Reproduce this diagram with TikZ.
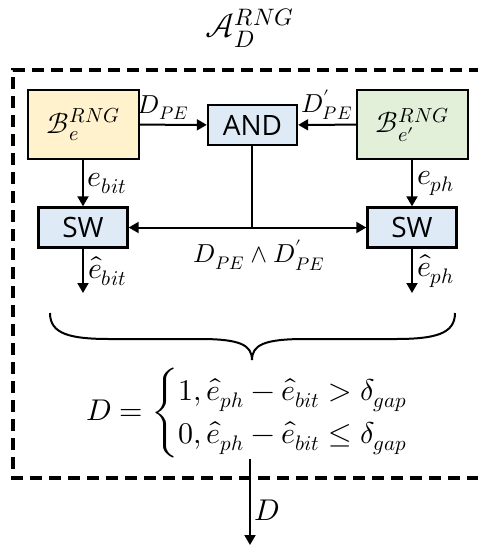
\documentclass[tikz,border=0pt]{standalone}
\usepackage{amsmath}
\usepackage{unicode-math}
\newfontfamily\boxfont{Open Sans}
\usetikzlibrary{arrows.meta}
\definecolor{yellowF}{HTML}{FFF2CC}
\definecolor{greenF}{HTML}{E2F0D9}
\definecolor{blueF}{HTML}{DEEBF7}

\begin{document}
\begin{tikzpicture}[x=0.5pt,y=-0.5pt,
block/.style={draw,line width=1.2pt,inner sep=0pt},
src/.style={block,minimum width=55.5pt,minimum height=34.5pt,font=\fontsize{14.5}{17}\selectfont},
gate/.style={block,fill=blueF,minimum width=44.5pt,minimum height=20pt,font=\boxfont\fontsize{14}{16}\selectfont},
flow/.style={-{Triangle[length=5pt,width=5.5pt]},line width=1pt},
lbl/.style={font=\fontsize{15}{17}\selectfont,inner sep=2pt},
slbl/.style={font=\fontsize{13}{15}\selectfont,inner sep=2pt}]
\useasboundingbox (0,0) rectangle (478,548);
\clip (0,0) rectangle (478,548);
% title and dashed frame
\node[font=\fontsize{17}{19}\selectfont] (title) at (250,28) {$\mathcal{A}_D^{RNG}$};
\draw[line width=1.8pt,dash pattern=on 6pt off 3.5pt] (500,70) -- (13,70) -- (13,478) -- (500,478);
% blocks
\node[src,fill=yellowF] (be) at (83.5,124.5) {$\mathcal{B}_e^{RNG}$};
\node[src,fill=greenF] (bep) at (412.5,124.5) {$\mathcal{B}_{e'}^{RNG}$};
\node[gate] (and) at (252.5,125) {AND};
\node[gate] (swl) at (83,227.5) {SW};
\node[gate] (swr) at (412,227.5) {SW};
\coordinate (join) at (and.south |- swl.east);
\coordinate (outl) at (83,293);
\coordinate (outr) at (412,293);
% connectors
\draw[flow] (be) -- node[slbl,above,pos=0.35] {$D_{PE}$} (and);
\draw[flow] (bep) -- node[slbl,above] {$D'_{PE}$} (and);
\draw[flow] (be.south -| swl) -- node[lbl,right] {$e_{bit}$} (swl);
\draw[flow] (bep.south -| swr) -- node[lbl,right] {$e_{ph}$} (swr);
\draw[line width=1pt] (and) -- (join);
\draw[flow] (join) -- (swl);
\draw[flow] (join) -- (swr);
\node[slbl,anchor=north] (andlbl) at ([xshift=3.5pt,yshift=-4pt]join) {$D_{PE}\wedge D'_{PE}$};
\draw[flow] (swl) -- node[lbl,right] {$\hat{e}_{bit}$} (outl);
\draw[flow] (swr) -- node[lbl,right] {$\hat{e}_{ph}$} (outr);
% brace
\draw[line width=1pt] (50,313) .. controls (50,334) and (70,339) .. (110,339) -- (200,339)
  .. controls (240,339) and (252,345) .. (252,360)
  .. controls (252,345) and (264,339) .. (305,339) -- (395,339)
  .. controls (435,339) and (455,334) .. (455,313);
% decision
\node[font=\fontsize{15}{18}\selectfont] (eq) at (263,413)
  {$D=\begin{cases}1,\hat{e}_{ph}-\hat{e}_{bit}>\delta_{gap}\\0,\hat{e}_{ph}-\hat{e}_{bit}\le\delta_{gap}\end{cases}$};
\coordinate (dtop) at (250,459);
\coordinate (dout) at (250,545);
\draw[flow] (dtop) -- node[lbl,right,pos=0.6] {$D$} (dout);
\end{tikzpicture}
\end{document}
